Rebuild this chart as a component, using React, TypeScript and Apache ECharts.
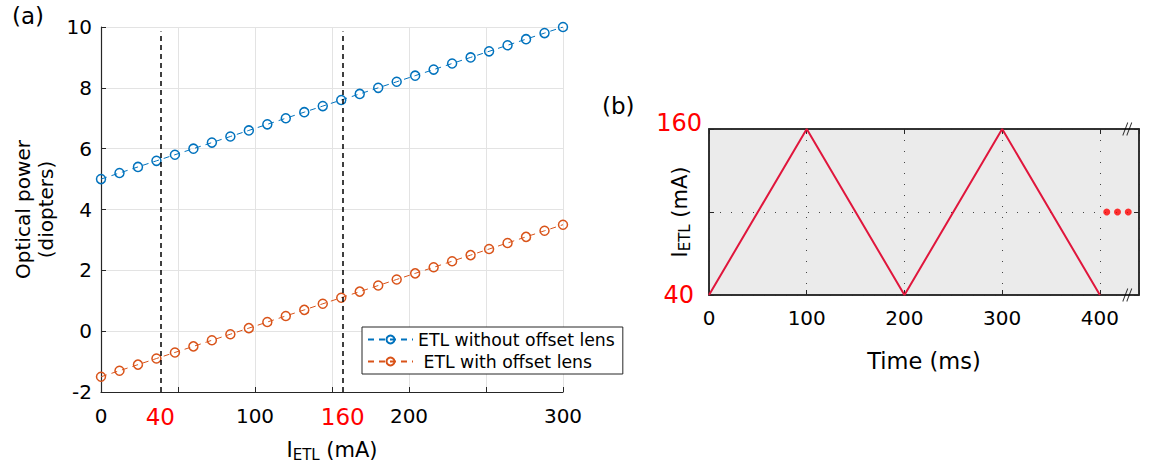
import React, { useEffect, useRef } from 'react';
import * as echarts from 'echarts';

// Panel (a): optical power vs ETL current
const currentsMa = [0, 12, 24, 36, 48, 60, 72, 84, 96, 108, 120, 132, 144, 156, 168, 180, 192, 204, 216, 228, 240, 252, 264, 276, 288, 300];
const powerWithout = [5.0, 5.2, 5.4, 5.6, 5.8, 6.0, 6.2, 6.4, 6.6, 6.8, 7.0, 7.2, 7.4, 7.6, 7.8, 8.0, 8.2, 8.4, 8.6, 8.8, 9.0, 9.2, 9.4, 9.6, 9.8, 10.0];
const powerWith = [-1.5, -1.3, -1.1, -0.9, -0.7, -0.5, -0.3, -0.1, 0.1, 0.3, 0.5, 0.7, 0.9, 1.1, 1.3, 1.5, 1.7, 1.9, 2.1, 2.3, 2.5, 2.7, 2.9, 3.1, 3.3, 3.5];
const seriesNames = ['ETL without offset lens', ' ETL with offset lens'];
const markerCurrents = [38.5, 157];
const markerLabels = ['40', '160'];
const markerTop = 9.85;

// Panel (b): triangular current waveform
const timeMs = [0, 100, 200, 300, 400];
const waveMa = [40, 160, 40, 160, 40];
const dotsTime = [407, 418, 429];
const dotsMa = [100, 100, 100];
const breakTime = [428, 428];
const breakMa = [160, 40];

const BLUE = '#0072BD';
const ORANGE = '#D95319';
const RED = '#ff0000';
const WAVE = '#e0163c';
const AXIS = '#262626';
const FONT = 'DejaVu Sans';

const subRich = {
  i: { fontSize: 21, lineHeight: 24, color: '#000', fontFamily: FONT },
  sub: { fontSize: 15, lineHeight: 14, verticalAlign: 'bottom', color: '#000', fontFamily: FONT },
};

export default function App() {
  const ref = useRef<HTMLDivElement>(null);
  useEffect(() => {
    if (!ref.current) return;
    const chart = echarts.init(ref.current, undefined, { renderer: 'svg' });
    const option: any = {
      animation: false,
      textStyle: { fontFamily: FONT },
      graphic: [
        { type: 'text', left: 12, top: 4, style: { text: '(a)', fontSize: 23, fill: '#000', fontFamily: FONT } },
        { type: 'text', left: 602, top: 94, style: { text: '(b)', fontSize: 23, fill: '#000', fontFamily: FONT } },
      ],
      legend: {
        data: seriesNames,
        orient: 'vertical',
        left: 362,
        top: 327,
        padding: [3, 8, 3, 5],
        itemGap: 3,
        itemWidth: 45,
        itemHeight: 10,
        borderColor: AXIS,
        borderWidth: 1,
        borderRadius: 0,
        backgroundColor: '#fff',
        textStyle: { fontSize: 17.3, color: '#000', fontFamily: FONT, lineHeight: 19 },
      },
      grid: [
        { left: 101, right: 588, top: 27, bottom: 76, containLabel: false },
        {
          left: 709, right: 12, top: 129, bottom: 173, containLabel: false,
          show: true, backgroundColor: '#ebebeb', borderColor: AXIS, borderWidth: 1.5,
        },
      ],
      xAxis: [
        {
          gridIndex: 0, type: 'value', min: 0, max: 300, interval: 50,
          axisLine: { onZero: false, lineStyle: { color: AXIS, width: 1.2 } },
          axisTick: { inside: true, length: 5, lineStyle: { color: AXIS } },
          axisLabel: {
            fontSize: 20, color: '#000', margin: 14,
            formatter: (v: number) => (v % 100 === 0 ? String(v) : ''),
          },
          splitLine: { show: true, lineStyle: { color: '#e3e3e3', width: 1 } },
          name: '{i|I}{sub|ETL}{i| (mA)}',
          nameLocation: 'middle',
          nameGap: 46,
          nameMoveOverlap: false,
          nameTextStyle: { rich: subRich },
        },
        {
          gridIndex: 1, type: 'value', min: 0, max: 440, interval: 100,
          axisLine: { onZero: false, lineStyle: { color: AXIS, width: 1.5 } },
          axisTick: { inside: true, length: 5, lineStyle: { color: AXIS } },
          axisLabel: {
            fontSize: 20, color: '#000', margin: 13,
            formatter: (v: number) => (v % 100 === 0 ? String(v) : ''),
          },
          splitLine: { show: true, lineStyle: { color: '#444', width: 1, type: [1, 10] } },
          name: 'Time (ms)',
          nameLocation: 'middle',
          nameGap: 54,
          nameMoveOverlap: false,
          nameTextStyle: { fontSize: 22.5, color: '#000' },
        },
        {
          gridIndex: 1, type: 'value', min: 0, max: 440, interval: 100, position: 'top',
          axisLine: { onZero: false, lineStyle: { color: AXIS, width: 1.5 } },
          axisTick: { inside: true, length: 5, lineStyle: { color: AXIS } },
          axisLabel: { show: false },
          splitLine: { show: false },
        },
      ],
      yAxis: [
        {
          gridIndex: 0, type: 'value', min: -2, max: 10, interval: 2,
          axisLine: { show: true, onZero: false, lineStyle: { color: AXIS, width: 1.2 } },
          axisTick: { show: true, inside: true, length: 5, lineStyle: { color: AXIS } },
          axisLabel: { fontSize: 20, color: '#000', margin: 9 },
          splitLine: { show: true, lineStyle: { color: '#e3e3e3', width: 1 } },
          name: 'Optical power\n(diopters)',
          nameLocation: 'middle',
          nameGap: 44,
          nameMoveOverlap: false,
          nameTextStyle: { fontSize: 20, lineHeight: 23, color: '#000', align: 'center' },
        },
        {
          gridIndex: 1, type: 'value', min: 40, max: 160, interval: 60,
          axisLine: { show: true, onZero: false, lineStyle: { color: AXIS, width: 1.5 } },
          axisTick: { show: true, inside: true, length: 5, lineStyle: { color: AXIS } },
          axisLabel: {
            margin: 7, color: RED,
            formatter: (v: number) => (v === 160 ? '{top|160}' : v === 40 ? '{bot|40}' : ''),
            rich: {
              top: { fontSize: 24, color: RED, padding: [0, 0, 12, 0], fontFamily: FONT },
              bot: { fontSize: 24, color: RED, padding: [0, 8, 0, 0], fontFamily: FONT },
            },
          },
          splitLine: { show: true, lineStyle: { color: '#444', width: 1, type: [1, 10] } },
          name: '{i|I}{sub|ETL}{i| (mA)}',
          nameLocation: 'middle',
          nameGap: 17,
          nameMoveOverlap: false,
          nameTextStyle: { rich: subRich },
        },
        {
          gridIndex: 1, type: 'value', min: 40, max: 160, interval: 60, position: 'right',
          axisLine: { show: true, onZero: false, lineStyle: { color: AXIS, width: 1.5 } },
          axisTick: { show: true, inside: true, length: 5, lineStyle: { color: AXIS } },
          axisLabel: { show: false },
          splitLine: { show: false },
        },
      ],
      series: [
        {
          name: seriesNames[0],
          type: 'line',
          xAxisIndex: 0, yAxisIndex: 0,
          data: currentsMa.map((c, i) => [c, powerWithout[i]]),
          symbol: 'circle',
          symbolSize: 9,
          color: BLUE,
          lineStyle: { color: BLUE, width: 1, type: [6, 5] },
          itemStyle: { color: 'rgba(255,255,255,0)', borderColor: BLUE, borderWidth: 1.5 },
          markLine: {
            silent: true,
            symbol: ['none', 'none'],
            lineStyle: { color: '#000', width: 1.5, type: [5, 4] },
            label: {
              show: true,
              position: 'start',
              distance: 13,
              color: RED,
              fontSize: 23,
              fontFamily: FONT,
              formatter: (p: any) => markerLabels[p.dataIndex],
            },
            data: markerCurrents.map((c) => [{ coord: [c, -2] }, { coord: [c, markerTop] }]),
          },
          z: 3,
        },
        {
          name: seriesNames[1],
          type: 'line',
          xAxisIndex: 0, yAxisIndex: 0,
          data: currentsMa.map((c, i) => [c, powerWith[i]]),
          symbol: 'circle',
          symbolSize: 9,
          color: ORANGE,
          lineStyle: { color: ORANGE, width: 1, type: [6, 5] },
          itemStyle: { color: 'rgba(255,255,255,0)', borderColor: ORANGE, borderWidth: 1.5 },
          z: 3,
        },
        {
          type: 'line',
          xAxisIndex: 1, yAxisIndex: 1,
          data: timeMs.map((t, i) => [t, waveMa[i]]),
          symbol: 'none',
          lineStyle: { color: WAVE, width: 2 },
          z: 3,
        },
        {
          type: 'scatter',
          xAxisIndex: 1, yAxisIndex: 1,
          data: dotsTime.map((t, i) => [t, dotsMa[i]]),
          symbol: 'circle',
          symbolSize: 7,
          itemStyle: { color: RED },
          z: 4,
        },
        {
          type: 'scatter',
          xAxisIndex: 1, yAxisIndex: 1,
          data: breakTime.map((t, i) => [t, breakMa[i]]),
          symbol: 'path://M0,14 L5,0 M4,14 L9,0',
          symbolSize: [9, 13],
          clip: false,
          itemStyle: { color: 'rgba(0,0,0,0)', borderColor: '#000', borderWidth: 1.2 },
          z: 5,
        },
      ],
    };
    chart.setOption(option);
    return () => chart.dispose();
  }, []);
  return (
    <div
      ref={ref}
      style={{ position: 'fixed', left: 0, top: 0, width: 1151, height: 468, background: '#fff' }}
    />
  );
}
